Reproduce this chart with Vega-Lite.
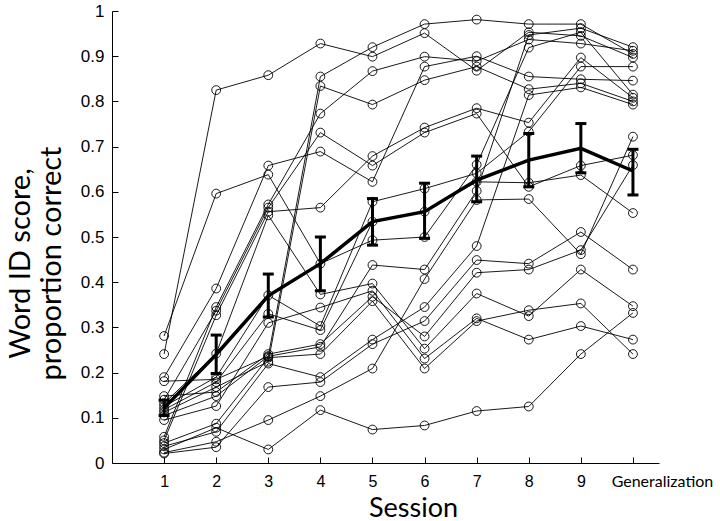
{
  "$schema": "https://vega.github.io/schema/vega-lite/v6.json",
  "width": 547,
  "height": 452,
  "autosize": "none",
  "padding": {"left": 112, "top": 11, "right": 61, "bottom": 58},
  "background": "white",
  "config": {"view": {"stroke": null}},
  "datasets": {
    "subjects": [
      {"subj":"a","session":1,"score":0.181},{"subj":"a","session":2,"score":0.185},{"subj":"a","session":3,"score":0.236},{"subj":"a","session":4,"score":0.855},{"subj":"a","session":5,"score":0.920},{"subj":"a","session":6,"score":0.971},{"subj":"a","session":7,"score":0.981},{"subj":"a","session":8,"score":0.971},{"subj":"a","session":9,"score":0.971},{"subj":"a","session":10,"score":0.905},
      {"subj":"b","session":1,"score":0.241},{"subj":"b","session":2,"score":0.825},{"subj":"b","session":3,"score":0.858},{"subj":"b","session":4,"score":0.928},{"subj":"b","session":5,"score":0.899},{"subj":"b","session":6,"score":0.951},{"subj":"b","session":7,"score":0.868},{"subj":"b","session":8,"score":0.953},{"subj":"b","session":9,"score":0.945},{"subj":"b","session":10,"score":0.897},
      {"subj":"c","session":1,"score":0.058},{"subj":"c","session":2,"score":0.345},{"subj":"c","session":3,"score":0.572},{"subj":"c","session":4,"score":0.773},{"subj":"c","session":5,"score":0.867},{"subj":"c","session":6,"score":0.899},{"subj":"c","session":7,"score":0.889},{"subj":"c","session":8,"score":0.937},{"subj":"c","session":9,"score":0.928},{"subj":"c","session":10,"score":0.912},
      {"subj":"d","session":1,"score":0.190},{"subj":"d","session":2,"score":0.386},{"subj":"d","session":3,"score":0.658},{"subj":"d","session":4,"score":0.689},{"subj":"d","session":5,"score":0.622},{"subj":"d","session":6,"score":0.877},{"subj":"d","session":7,"score":0.900},{"subj":"d","session":8,"score":0.855},{"subj":"d","session":9,"score":0.849},{"subj":"d","session":10,"score":0.846},
      {"subj":"e","session":1,"score":0.112},{"subj":"e","session":2,"score":0.168},{"subj":"e","session":3,"score":0.224},{"subj":"e","session":4,"score":0.834},{"subj":"e","session":5,"score":0.793},{"subj":"e","session":6,"score":0.847},{"subj":"e","session":7,"score":0.877},{"subj":"e","session":8,"score":0.827},{"subj":"e","session":9,"score":0.840},{"subj":"e","session":10,"score":0.800},
      {"subj":"f","session":1,"score":0.050},{"subj":"f","session":2,"score":0.327},{"subj":"f","session":3,"score":0.556},{"subj":"f","session":4,"score":0.565},{"subj":"f","session":5,"score":0.679},{"subj":"f","session":6,"score":0.742},{"subj":"f","session":7,"score":0.785},{"subj":"f","session":8,"score":0.753},{"subj":"f","session":9,"score":0.897},{"subj":"f","session":10,"score":0.808},
      {"subj":"g","session":1,"score":0.140},{"subj":"g","session":2,"score":0.337},{"subj":"g","session":3,"score":0.565},{"subj":"g","session":4,"score":0.731},{"subj":"g","session":5,"score":0.658},{"subj":"g","session":6,"score":0.731},{"subj":"g","session":7,"score":0.773},{"subj":"g","session":8,"score":0.611},{"subj":"g","session":9,"score":0.658},{"subj":"g","session":10,"score":0.681},
      {"subj":"h","session":1,"score":0.125},{"subj":"h","session":2,"score":0.190},{"subj":"h","session":3,"score":0.371},{"subj":"h","session":4,"score":0.303},{"subj":"h","session":5,"score":0.578},{"subj":"h","session":6,"score":0.607},{"subj":"h","session":7,"score":0.641},{"subj":"h","session":8,"score":0.733},{"subj":"h","session":9,"score":0.877},{"subj":"h","session":10,"score":0.877},
      {"subj":"i","session":1,"score":0.118},{"subj":"i","session":2,"score":0.179},{"subj":"i","session":3,"score":0.330},{"subj":"i","session":4,"score":0.294},{"subj":"i","session":5,"score":0.534},{"subj":"i","session":6,"score":0.556},{"subj":"i","session":7,"score":0.622},{"subj":"i","session":8,"score":0.620},{"subj":"i","session":9,"score":0.637},{"subj":"i","session":10,"score":0.553},
      {"subj":"j","session":1,"score":0.281},{"subj":"j","session":2,"score":0.596},{"subj":"j","session":3,"score":0.638},{"subj":"j","session":4,"score":0.441},{"subj":"j","session":5,"score":0.493},{"subj":"j","session":6,"score":0.500},{"subj":"j","session":7,"score":0.660},{"subj":"j","session":8,"score":0.919},{"subj":"j","session":9,"score":0.953},{"subj":"j","session":10,"score":0.815},
      {"subj":"k","session":1,"score":0.105},{"subj":"k","session":2,"score":0.148},{"subj":"k","session":3,"score":0.236},{"subj":"k","session":4,"score":0.257},{"subj":"k","session":5,"score":0.438},{"subj":"k","session":6,"score":0.428},{"subj":"k","session":7,"score":0.602},{"subj":"k","session":8,"score":0.947},{"subj":"k","session":9,"score":0.962},{"subj":"k","session":10,"score":0.920},
      {"subj":"l","session":1,"score":0.023},{"subj":"l","session":2,"score":0.047},{"subj":"l","session":3,"score":0.095},{"subj":"l","session":4,"score":0.148},{"subj":"l","session":5,"score":0.209},{"subj":"l","session":6,"score":0.407},{"subj":"l","session":7,"score":0.582},{"subj":"l","session":8,"score":0.584},{"subj":"l","session":9,"score":0.462},{"subj":"l","session":10,"score":0.722},
      {"subj":"m","session":1,"score":0.037},{"subj":"m","session":2,"score":0.069},{"subj":"m","session":3,"score":0.220},{"subj":"m","session":4,"score":0.190},{"subj":"m","session":5,"score":0.273},{"subj":"m","session":6,"score":0.345},{"subj":"m","session":7,"score":0.480},{"subj":"m","session":8,"score":0.814},{"subj":"m","session":9,"score":0.831},{"subj":"m","session":10,"score":0.793},
      {"subj":"n","session":1,"score":0.021},{"subj":"n","session":2,"score":0.035},{"subj":"n","session":3,"score":0.168},{"subj":"n","session":4,"score":0.179},{"subj":"n","session":5,"score":0.263},{"subj":"n","session":6,"score":0.314},{"subj":"n","session":7,"score":0.449},{"subj":"n","session":8,"score":0.441},{"subj":"n","session":9,"score":0.511},{"subj":"n","session":10,"score":0.428},
      {"subj":"o","session":1,"score":0.148},{"subj":"o","session":2,"score":0.157},{"subj":"o","session":3,"score":0.241},{"subj":"o","session":4,"score":0.263},{"subj":"o","session":5,"score":0.368},{"subj":"o","session":6,"score":0.280},{"subj":"o","session":7,"score":0.421},{"subj":"o","session":8,"score":0.428},{"subj":"o","session":9,"score":0.471},{"subj":"o","session":10,"score":0.659},
      {"subj":"p","session":1,"score":0.132},{"subj":"p","session":2,"score":0.242},{"subj":"p","session":3,"score":0.548},{"subj":"p","session":4,"score":0.373},{"subj":"p","session":5,"score":0.397},{"subj":"p","session":6,"score":0.253},{"subj":"p","session":7,"score":0.375},{"subj":"p","session":8,"score":0.325},{"subj":"p","session":9,"score":0.428},{"subj":"p","session":10,"score":0.347},
      {"subj":"q","session":1,"score":0.095},{"subj":"q","session":2,"score":0.126},{"subj":"q","session":3,"score":0.310},{"subj":"q","session":4,"score":0.344},{"subj":"q","session":5,"score":0.381},{"subj":"q","session":6,"score":0.231},{"subj":"q","session":7,"score":0.320},{"subj":"q","session":8,"score":0.273},{"subj":"q","session":9,"score":0.303},{"subj":"q","session":10,"score":0.273},
      {"subj":"r","session":1,"score":0.044},{"subj":"r","session":2,"score":0.087},{"subj":"r","session":3,"score":0.233},{"subj":"r","session":4,"score":0.241},{"subj":"r","session":5,"score":0.358},{"subj":"r","session":6,"score":0.209},{"subj":"r","session":7,"score":0.314},{"subj":"r","session":8,"score":0.338},{"subj":"r","session":9,"score":0.353},{"subj":"r","session":10,"score":0.241},
      {"subj":"s","session":1,"score":0.030},{"subj":"s","session":2,"score":0.078},{"subj":"s","session":3,"score":0.030},{"subj":"s","session":4,"score":0.117},{"subj":"s","session":5,"score":0.074},{"subj":"s","session":6,"score":0.083},{"subj":"s","session":7,"score":0.115},{"subj":"s","session":8,"score":0.125},{"subj":"s","session":9,"score":0.241},{"subj":"s","session":10,"score":0.332}
    ],
    "means": [
      {"session":1,"mean":0.122,"lo":0.105,"hi":0.139},
      {"session":2,"mean":0.240,"lo":0.198,"hi":0.283},
      {"session":3,"mean":0.370,"lo":0.323,"hi":0.418},
      {"session":4,"mean":0.441,"lo":0.381,"hi":0.500},
      {"session":5,"mean":0.534,"lo":0.482,"hi":0.585},
      {"session":6,"mean":0.556,"lo":0.497,"hi":0.619},
      {"session":7,"mean":0.626,"lo":0.578,"hi":0.679},
      {"session":8,"mean":0.670,"lo":0.611,"hi":0.729},
      {"session":9,"mean":0.696,"lo":0.642,"hi":0.751},
      {"session":10,"mean":0.646,"lo":0.593,"hi":0.694}
    ]
  },
  "encoding": {
    "x": {
      "field": "session", "type": "quantitative",
      "scale": {"domain": [0, 10.5], "nice": false, "zero": false},
      "axis": {
        "values": [1,2,3,4,5,6,7,8,9,10],
        "labelExpr": "datum.value == 10 ? 'Generalization' : datum.label",
        "grid": false,
        "domainColor": "#000", "tickColor": "#000",
        "tickSize": -6, "labelPadding": 16,
        "labelFont": {"condition": {"test": "datum.value == 10", "value": "Lato"}, "value": "Liberation Sans"},
        "labelFontSize": 16, "labelColor": "#000",
        "labelOffset": {"condition": {"test": "datum.value == 10", "value": 29}, "value": 0},
        "labelFlush": false,
        "title": "Session",
        "titleFont": "Lato", "titleFontSize": 27, "titleFontWeight": "normal", "titleColor": "#000",
        "titleX": 301, "titleY": 53, "titleBaseline": "alphabetic", "titleAnchor": null, "titleAlign": "center"
      }
    }
  },
  "layer": [
    {
      "data": {"name": "subjects"},
      "mark": {"type": "line", "color": "#000", "strokeWidth": 0.9},
      "encoding": {
        "y": {
          "field": "score", "type": "quantitative",
          "scale": {"domain": [0, 1], "nice": false},
          "axis": {
            "values": [0,0.1,0.2,0.3,0.4,0.5,0.6,0.7,0.8,0.9,1],
            "format": ".1~f",
            "grid": false,
            "domainColor": "#000", "tickColor": "#000",
            "tickSize": -6, "labelPadding": 14,
            "labelFont": "Liberation Sans", "labelFontSize": 17, "labelColor": "#000",
            "labelFlush": false,
            "title": ["Word ID score,", "proportion correct"],
            "titleFont": "Lato", "titleFontSize": 29, "titleFontWeight": "normal", "titleColor": "#000",
            "titleLineHeight": 31,
            "titleAngle": -90, "titleX": -106, "titleY": 252, "titleBaseline": "top", "titleAlign": "center", "titleAnchor": null
          }
        },
        "detail": {"field": "subj", "type": "nominal"}
      }
    },
    {
      "data": {"name": "subjects"},
      "mark": {"type": "point", "shape": "circle", "filled": false, "size": 78, "stroke": "#000", "strokeWidth": 0.9, "opacity": 1},
      "encoding": {
        "y": {"field": "score", "type": "quantitative"}
      }
    },
    {
      "data": {"name": "means"},
      "mark": {"type": "line", "color": "#000", "strokeWidth": 3.5},
      "encoding": {"y": {"field": "mean", "type": "quantitative"}}
    },
    {
      "data": {"name": "means"},
      "mark": {"type": "rule", "color": "#000", "strokeWidth": 3},
      "encoding": {"y": {"field": "lo", "type": "quantitative"}, "y2": {"field": "hi"}}
    },
    {
      "data": {"name": "means"},
      "mark": {"type": "tick", "orient": "horizontal", "color": "#000", "size": 11, "thickness": 3, "opacity": 1},
      "encoding": {"y": {"field": "lo", "type": "quantitative"}}
    },
    {
      "data": {"name": "means"},
      "mark": {"type": "tick", "orient": "horizontal", "color": "#000", "size": 11, "thickness": 3, "opacity": 1},
      "encoding": {"y": {"field": "hi", "type": "quantitative"}}
    }
  ]
}
